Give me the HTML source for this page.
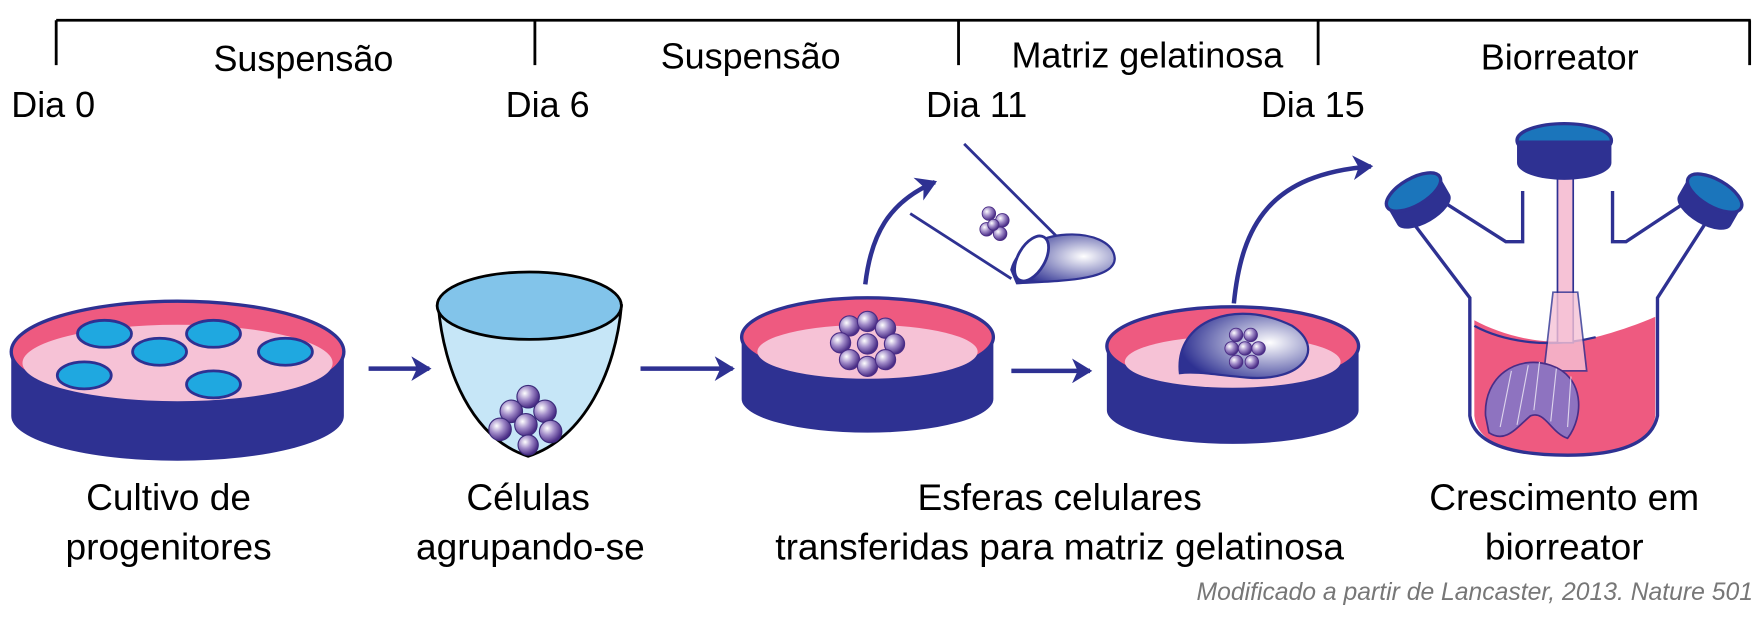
<!DOCTYPE html>
<html><head><meta charset="utf-8"><style>
html,body{margin:0;padding:0;background:#fff;}
svg{display:block;}
text{font-family:"Liberation Sans",sans-serif;fill:#000;}
</style></head><body>
<svg width="1762" height="617" viewBox="0 0 1568 549" preserveAspectRatio="none" xmlns="http://www.w3.org/2000/svg">
<defs>
<radialGradient id="sph" cx="35%" cy="35%" r="65%"><stop offset="0" stop-color="#fff"/><stop offset="0.5" stop-color="#a08ac8"/><stop offset="1" stop-color="#4a2d86"/></radialGradient>
<radialGradient id="gel" cx="70%" cy="45%" r="70%"><stop offset="0" stop-color="#fff"/><stop offset="1" stop-color="#2e3192"/></radialGradient>
<marker id="ah" markerWidth="20" markerHeight="22" refX="16" refY="11" orient="auto" markerUnits="userSpaceOnUse"><path d="M0,0 L18,11 L0,22 L5,11z" fill="#2e3192"/></marker>
</defs>
<g stroke="#000" stroke-width="2.5" fill="none">
<path d="M50,18 H1558"/><path d="M50,18 V58 M476,18 V58 M853,18 V58 M1173,18 V58 M1557,18 V58"/>
</g>
<g font-size="32" text-anchor="middle">
<text x="270" y="63">Suspensão</text><text x="668" y="61">Suspensão</text>
<text x="1021" y="60">Matriz gelatinosa</text><text x="1388" y="62">Biorreator</text>
</g>
<g font-size="32">
<text x="10" y="104">Dia 0</text><text x="450" y="104">Dia 6</text><text x="824" y="104">Dia 11</text><text x="1122" y="104">Dia 15</text>
</g>
<path d="M10,313 V370 A148,40 0 0 0 306,370 V313z" fill="#2e3192"/>
<ellipse cx="158" cy="313" rx="148" ry="45" fill="#ee5a80" stroke="#2e3192" stroke-width="3"/>
<ellipse cx="158" cy="323" rx="138" ry="34" fill="#f6c2d6"/>
<g fill="#1fa8e0" stroke="#2e3192" stroke-width="2.5">
<ellipse cx="93" cy="297" rx="24" ry="12"/><ellipse cx="190" cy="297" rx="24" ry="12"/><ellipse cx="142" cy="313" rx="24" ry="12"/>
<ellipse cx="254" cy="313" rx="24" ry="12"/><ellipse cx="75" cy="334" rx="24" ry="12"/><ellipse cx="190" cy="342" rx="24" ry="12"/>
</g>
<g stroke="#2e3192" stroke-width="4" fill="none" marker-end="url(#ah)">
<path d="M328,328 H382"/><path d="M570,328 H652"/><path d="M900,330 H970"/>
<path d="M770,253 C775,210 790,180 832,162"/><path d="M1098,270 C1105,200 1130,155 1220,148"/>
</g>
<path d="M390,272 C395,330 420,390 470,406 C520,390 548,330 553,272z" fill="#c6e6f7" stroke="#000" stroke-width="2.5"/>
<ellipse cx="471" cy="272" rx="82" ry="30" fill="#82c4ea" stroke="#000" stroke-width="2.5"/>
<g fill="url(#sph)" stroke="#3b2a7a" stroke-width="1">
<circle cx="470" cy="353" r="10"/><circle cx="455" cy="366" r="10"/><circle cx="485" cy="366" r="10"/>
<circle cx="445" cy="382" r="10"/><circle cx="468" cy="378" r="10"/><circle cx="490" cy="384" r="10"/><circle cx="470" cy="396" r="9"/>
</g>
<path d="M660,300 V355 A112,30 0 0 0 884,355 V300z" fill="#2e3192"/>
<ellipse cx="772" cy="300" rx="112" ry="35" fill="#ee5a80" stroke="#2e3192" stroke-width="3"/>
<ellipse cx="772" cy="313" rx="98" ry="24" fill="#f6c2d6"/>
<g fill="url(#sph)" stroke="#4a2d86" stroke-width="1">
<circle cx="756" cy="290" r="9"/><circle cx="772" cy="286" r="9"/><circle cx="788" cy="292" r="9"/><circle cx="748" cy="305" r="9"/>
<circle cx="796" cy="306" r="9"/><circle cx="756" cy="320" r="9"/><circle cx="772" cy="326" r="9"/><circle cx="788" cy="320" r="9"/>
<circle cx="772" cy="306" r="9"/>
</g>
<path d="M858,128 L945,215 M810,190 L900,248" stroke="#2e3192" stroke-width="2.5"/>
<path d="M900,240 C910,200 990,200 992,230 C992,250 940,250 905,252z" fill="url(#gel)" stroke="#2e3192" stroke-width="2"/>
<ellipse cx="918" cy="230" rx="12" ry="22" fill="#fff" stroke="#2e3192" stroke-width="2.5" transform="rotate(30 918 230)"/>
<g fill="url(#sph)" stroke="#4a2d86" stroke-width=".8"><circle cx="880" cy="190" r="6"/><circle cx="892" cy="196" r="6"/><circle cx="878" cy="204" r="6"/><circle cx="890" cy="208" r="6"/><circle cx="884" cy="200" r="5"/></g>
<path d="M985,308 V365 A112,30 0 0 0 1209,365 V308z" fill="#2e3192"/>
<ellipse cx="1097" cy="308" rx="112" ry="35" fill="#ee5a80" stroke="#2e3192" stroke-width="3"/>
<ellipse cx="1097" cy="322" rx="96" ry="23" fill="#f6c2d6"/>
<path d="M1050,332 C1045,285 1100,265 1150,290 C1180,310 1160,340 1110,336 C1085,334 1065,330 1050,332z" fill="url(#gel)" stroke="#2e3192" stroke-width="2"/>
<g fill="url(#sph)" stroke="#4a2d86" stroke-width=".8"><circle cx="1100" cy="298" r="6"/><circle cx="1113" cy="298" r="6"/><circle cx="1096" cy="310" r="6"/><circle cx="1108" cy="310" r="6"/><circle cx="1120" cy="310" r="6"/><circle cx="1100" cy="322" r="6"/><circle cx="1114" cy="322" r="6"/></g>
<path d="M1312,285 C1340,300 1380,310 1420,300 C1450,292 1465,285 1473,282 V370 C1470,395 1440,405 1395,405 C1345,405 1315,395 1312,370z" fill="#ee5a80"/>
<path d="M1255,195 L1308,265 V370 C1312,395 1345,405 1395,405 C1440,405 1470,395 1475,370 V265 L1520,195 M1285,180 L1340,215 H1355 V170 M1435,170 V215 H1447 L1500,180" fill="none" stroke="#2e3192" stroke-width="3"/>
<path d="M1312,290 C1340,305 1380,310 1420,300" fill="none" stroke="#2e3192" stroke-width="2"/>
<rect x="1386" y="155" width="14" height="150" fill="#f6c2d6" stroke="#2e3192" stroke-width="1.5"/>
<path d="M1382,260 L1374,330 H1412 L1404,260z" fill="#f6c2d6" stroke="#2e3192" stroke-width="1.5" opacity=".8"/>
<path d="M1322,370 C1320,335 1350,315 1380,325 C1410,335 1410,370 1395,390 C1380,385 1375,365 1362,370 C1350,380 1340,395 1325,385z" fill="#8e73c0" stroke="#4a2d86" stroke-width="1.5"/>
<g stroke="#fff" stroke-width="1" fill="none" opacity=".7"><path d="M1335,380 L1345,330 M1350,378 L1360,325 M1365,365 L1370,322 M1380,375 L1385,328 M1395,380 L1398,335"/></g>
<ellipse cx="1392" cy="125" rx="42" ry="15" fill="#1b75bb" stroke="#2e3192" stroke-width="3"/>
<path d="M1350,125 V145 A42,15 0 0 0 1434,145 V125" fill="#2e3192"/>
<g transform="rotate(-30 1262 180)"><path d="M1236,170 V188 A27,12 0 0 0 1290,188 V170z" fill="#2e3192"/><ellipse cx="1263" cy="170" rx="27" ry="12" fill="#1b75bb" stroke="#2e3192" stroke-width="3"/></g>
<g transform="rotate(30 1520 180)"><path d="M1494,170 V188 A27,12 0 0 0 1548,188 V170z" fill="#2e3192"/><ellipse cx="1521" cy="170" rx="27" ry="12" fill="#1b75bb" stroke="#2e3192" stroke-width="3"/></g>
<g font-size="33" text-anchor="middle">
<text x="150" y="454">Cultivo de</text><text x="150" y="498">progenitores</text>
<text x="470" y="454">Células</text><text x="472" y="498">agrupando-se</text>
<text x="943" y="454">Esferas celulares</text><text x="943" y="498">transferidas para matriz gelatinosa</text>
<text x="1392" y="454">Crescimento em</text><text x="1392" y="498">biorreator</text>
</g>
<text x="1560" y="534" font-size="22" font-style="italic" text-anchor="end" style="fill:#777">Modificado a partir de Lancaster, 2013. Nature 501</text>
</svg>
</body></html>
